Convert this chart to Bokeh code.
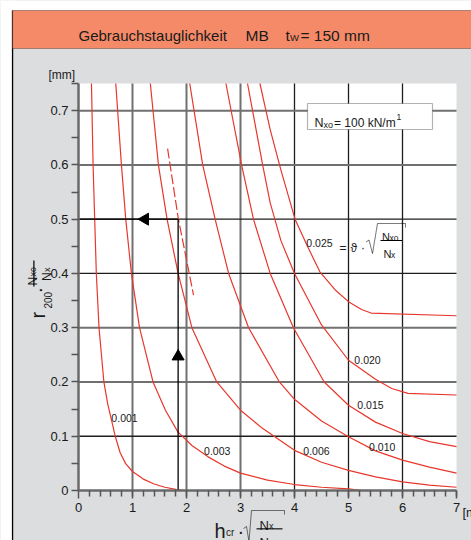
import numpy as np
from bokeh.plotting import figure
from bokeh.models import (FixedTicker, Label, BoxAnnotation, PolyAnnotation, Range1d)
from bokeh.core.properties import value
from bokeh.embed import file_html
from bokeh.resources import INLINE

FONT = "Liberation Sans"
RED = "#E8372C"
GRAY_BG = "#DCDDDF"
ORANGE = "#F58A68"

# ---------------- data ----------------
theta_labels = ["0.001", "0.003", "0.006", "0.010", "0.015", "0.020", "0.025"]

x_001 = [0.24, 0.27, 0.30, 0.33, 0.38, 0.47, 0.54, 0.61, 0.68, 0.77, 0.87, 1.00, 1.20, 1.40, 1.60, 1.80, 1.95]
y_001 = [0.75, 0.60, 0.50, 0.40, 0.30, 0.20, 0.16, 0.13, 0.10, 0.07, 0.05, 0.035, 0.021, 0.012, 0.006, 0.002, 0.0]

x_003 = [0.69, 0.795, 0.875, 0.98, 1.13, 1.38, 1.61, 1.84, 2.10, 2.40, 2.70, 3.00, 3.50, 4.00, 4.50, 5.00, 5.25]
y_003 = [0.75, 0.60, 0.50, 0.40, 0.30, 0.20, 0.148, 0.108, 0.083, 0.062, 0.045, 0.032, 0.019, 0.011, 0.006, 0.003, 0.0]

x_006 = [1.33, 1.48, 1.64, 1.845, 2.10, 2.56, 3.00, 3.40, 4.00, 4.50, 5.00, 5.50, 6.00, 6.50, 7.00]
y_006 = [0.75, 0.60, 0.50, 0.40, 0.30, 0.20, 0.148, 0.115, 0.074, 0.052, 0.037, 0.025, 0.016, 0.010, 0.006]

x_010 = [2.06, 2.30, 2.53, 2.78, 3.15, 3.72, 4.00, 4.50, 5.00, 5.50, 6.00, 6.50, 7.00]
y_010 = [0.75, 0.60, 0.50, 0.40, 0.30, 0.20, 0.168, 0.128, 0.099, 0.073, 0.056, 0.043, 0.032]

x_015 = [2.73, 3.02, 3.24, 3.55, 3.98, 4.55, 5.00, 5.50, 6.00, 6.50, 7.00]
y_015 = [0.75, 0.60, 0.50, 0.40, 0.30, 0.20, 0.157, 0.126, 0.105, 0.090, 0.081]

x_020 = [3.13, 3.41, 3.55, 3.75, 4.00, 4.50, 5.00, 5.50, 5.80, 6.10, 7.00]
y_020 = [0.75, 0.60, 0.53, 0.46, 0.40, 0.305, 0.24, 0.205, 0.188, 0.179, 0.176]

x_025 = [3.36, 3.46, 3.55, 3.75, 4.01, 4.24, 4.47, 4.75, 5.00, 5.25, 5.42, 7.00]
y_025 = [0.75, 0.705, 0.665, 0.59, 0.50, 0.45, 0.403, 0.37, 0.348, 0.333, 0.327, 0.322]

curves_x = [x_001, x_003, x_006, x_010, x_015, x_020, x_025]
curves_y = [y_001, y_003, y_006, y_010, y_015, y_020, y_025]

# curve label anchor points (data units)
label_x = [0.852, 2.569, 4.407, 5.624, 5.407, 5.352, 4.463]
label_y = [0.133, 0.072, 0.072, 0.081, 0.157, 0.240, 0.457]

# dashed auxiliary line
dash_x = [1.65, 1.85, 2.13]
dash_y = [0.63, 0.50, 0.36]

# reading example (arrows)
example_x = 1.845
example_y = 0.5
arrow_up_y = 0.247
arrow_left_x = 1.232

x_ticks = [0, 1, 2, 3, 4, 5, 6, 7]
x_tick_labels = ["0", "1", "2", "3", "4", "5", "6", "7"]
x_minor = [round(0.2 * i, 1) for i in range(1, 36)]
y_ticks = [0.0, 0.1, 0.2, 0.3, 0.4, 0.5, 0.6, 0.7]
y_tick_labels = ["0", "0.1", "0.2", "0.3", "0.4", "0.5", "0.6", "0.7"]
y_minor = [0.05, 0.15, 0.25, 0.35, 0.45, 0.55, 0.65, 0.75]

X_MAX = 7.0
Y_MAX = 0.75

grid_x_gray = [1, 2, 3]
grid_x_black = [4, 5, 6]
grid_y_gray = [0.2, 0.3, 0.6, 0.7]
grid_y_black = [0.1, 0.4, 0.5]

# ---------------- figure ----------------
W, H = 471, 540
LEFT, BOTTOM_PX = 78, 490          # pixel position of the data origin
SX, SY = 54.0, 407.0 / Y_MAX       # pixels per data unit

p = figure(width=W, height=H,
           x_range=Range1d(-LEFT / SX, (W - LEFT) / SX),
           y_range=Range1d(-(H - BOTTOM_PX) / SY, BOTTOM_PX / SY),
           output_backend="svg", toolbar_location=None,
           min_border_left=0, min_border_right=0, min_border_top=0, min_border_bottom=0,
           border_fill_color=GRAY_BG, background_fill_color=GRAY_BG, outline_line_color=None)

p.xgrid.visible = False
p.ygrid.visible = False

# white plot area
p.quad(left=[0], right=[X_MAX], bottom=[0], top=[Y_MAX], fill_color="white", line_alpha=0)

# grid lines
for gx, col, w in [(grid_x_gray, "#707070", 2.0), (grid_x_black, "#1e1e1e", 1.3)]:
    p.segment(x0=gx, y0=[0] * len(gx), x1=gx, y1=[Y_MAX] * len(gx), line_color=col, line_width=w)
for gy, col, w in [(grid_y_gray, "#707070", 2.0), (grid_y_black, "#1e1e1e", 1.3)]:
    p.segment(x0=[0] * len(gy), y0=gy, x1=[X_MAX] * len(gy), y1=gy, line_color=col, line_width=w)

# axes, fixed at the data origin
p.xaxis.fixed_location = 0
p.yaxis.fixed_location = 0
p.xaxis.bounds = (0, X_MAX)
p.yaxis.bounds = (0, Y_MAX)
for ax in (p.xaxis[0], p.yaxis[0]):
    ax.axis_line_color = "#6a6a6a"
    ax.axis_line_width = 2.5
    ax.major_tick_line_color = "#555555"
    ax.minor_tick_line_color = "#555555"
    ax.major_tick_line_width = 1.5
    ax.minor_tick_line_width = 1.5
    ax.major_tick_in = 0
    ax.minor_tick_in = 0
    ax.major_label_text_font = FONT
    ax.major_label_text_font_size = "13px"
    ax.major_label_text_color = "#1a1a1a"

p.xaxis.ticker = FixedTicker(ticks=x_ticks, minor_ticks=x_minor)
p.xaxis.major_label_overrides = dict(zip(x_ticks, x_tick_labels))
p.xaxis.major_tick_out = 8
p.xaxis.minor_tick_out = 6
p.xaxis.major_label_standoff = 4

p.yaxis.ticker = FixedTicker(ticks=y_ticks, minor_ticks=y_minor)
p.yaxis.major_label_overrides = dict(zip(y_ticks, y_tick_labels))
p.yaxis.major_tick_out = 7
p.yaxis.minor_tick_out = 7
p.yaxis.major_label_standoff = 3

# curves
for cx, cy in zip(curves_x, curves_y):
    p.line(cx, cy, line_color=RED, line_width=1.2)

p.line(dash_x, dash_y, line_color=RED, line_width=1.2, line_dash="10 3")

# reading example
p.segment(x0=[example_x], y0=[0], x1=[example_x], y1=[example_y], line_color="black", line_width=1.3)
p.segment(x0=[0], y0=[example_y], x1=[example_x], y1=[example_y], line_color="black", line_width=1.3)
p.scatter([example_x], [arrow_up_y], marker="triangle", size=12, color="black")
p.scatter([arrow_left_x], [example_y], marker="triangle", angle=np.pi / 2, size=12, color="black")

p.text(x=label_x, y=label_y, text=theta_labels, text_font=value(FONT),
       text_font_size=value("10.5px"), text_align="center", text_baseline="middle",
       text_color="#1a1a1a")

# ---------------- annotations ----------------
def cbox(l, r, t, b, **kw):
    p.add_layout(BoxAnnotation(left=l, right=r, top=t, bottom=b,
                               left_units="canvas", right_units="canvas",
                               top_units="canvas", bottom_units="canvas", **kw))

def clabel(x, y, text, size, color="#1a1a1a"):
    p.add_layout(Label(x=x, y=y, x_units="canvas", y_units="canvas", text=text,
                       text_font=FONT, text_font_size=f"{size}px", text_color=color,
                       text_baseline="alphabetic", text_align="left"))

def vlabel(px, py, text, size, color="#1a1a1a"):
    # rotated label (reads bottom to top); position given in canvas pixels
    p.add_layout(Label(x=(px - LEFT) / SX, y=(BOTTOM_PX - py) / SY, text=text,
                       text_font=FONT, text_font_size=f"{size}px", text_color=color,
                       text_baseline="alphabetic", text_align="left", angle=np.pi / 2))

def cpoly(xs, ys, w=1.0):
    xs2 = list(xs) + list(xs[-2:0:-1])
    ys2 = list(ys) + list(ys[-2:0:-1])
    p.add_layout(PolyAnnotation(xs=xs2, ys=ys2, xs_units="canvas", ys_units="canvas",
                                fill_alpha=0, line_color="black", line_width=w))

# white margins and frame lines
cbox(0, 12, 0, 540, fill_color="white", fill_alpha=1, line_alpha=0)
cbox(0, 471, 0, 10, fill_color="white", fill_alpha=1, line_alpha=0)
cbox(11.4, 12.7, 10, 540, fill_color="black", fill_alpha=1, line_alpha=0)
# header band
cbox(12, 473, 10, 48, fill_color=ORANGE, fill_alpha=1, line_color="black", line_width=1.2)

clabel(78, 35, "Gebrauchstauglichkeit", 15)
clabel(245, 35, "MB", 15.5)
clabel(285, 35, "t", 15.5)
clabel(289.5, 36.5, "W", 9.5)
clabel(300, 35, "= 150 mm", 15.5)

# axis units
clabel(48, 74, "[mm]", 12)
clabel(462, 512, "[mm]", 13)

# y-axis title (rotated)
vlabel(37, 318, "r", 20)
vlabel(47.5, 308, "200", 10)
vlabel(38, 293, "\u00b7", 20)
vlabel(32, 285, "N", 12)
vlabel(32, 276, "xo", 9)
cbox(32.8, 34.0, 260, 286, fill_color="black", fill_alpha=1, line_alpha=0)
vlabel(46, 280.5, "N", 12)
vlabel(46.5, 271.5, "x", 9)

# x-axis title
clabel(214, 530, "h", 20)
clabel(225.5, 532, "cr", 10)
clabel(237, 530, "\u00b7", 20)
cpoly([243, 246, 248.5, 251, 284, 284], [528, 526, 541, 510, 510, 514])
clabel(259, 524.5, "N", 13)
clabel(268.5, 525.5, "x", 9)
cbox(256, 282, 527.8, 528.9, fill_color="black", fill_alpha=1, line_alpha=0)
clabel(259, 542, "N", 13)
clabel(268.5, 544, "xo", 9)

# box N_xo = 100 kN/m^1
cbox(307, 432, 103, 129, fill_color="white", fill_alpha=1, line_color="black", line_width=1.2)
clabel(314, 122, "N", 12.5)
clabel(323, 124, "xo", 9)
clabel(333.5, 122, "= 100 kN/m", 12)
clabel(396, 116, "1", 8.5)

# formula near 0.025
clabel(339, 247, "=", 12)
clabel(350, 247, "\u03d1", 12)
clabel(360.5, 247, "\u00b7", 12)
cpoly([365.5, 368.5, 372, 377, 405, 405], [241.5, 239.5, 253, 223, 223, 227])
clabel(381.5, 236.5, "N", 11)
clabel(389, 237.5, "xo", 8.5)
cbox(380, 401.5, 239.5, 240.6, fill_color="black", fill_alpha=1, line_alpha=0)
clabel(383, 253, "N", 11)
clabel(390.5, 254.5, "x", 8.5)

open("out.html", "w").write(file_html(p, INLINE))
